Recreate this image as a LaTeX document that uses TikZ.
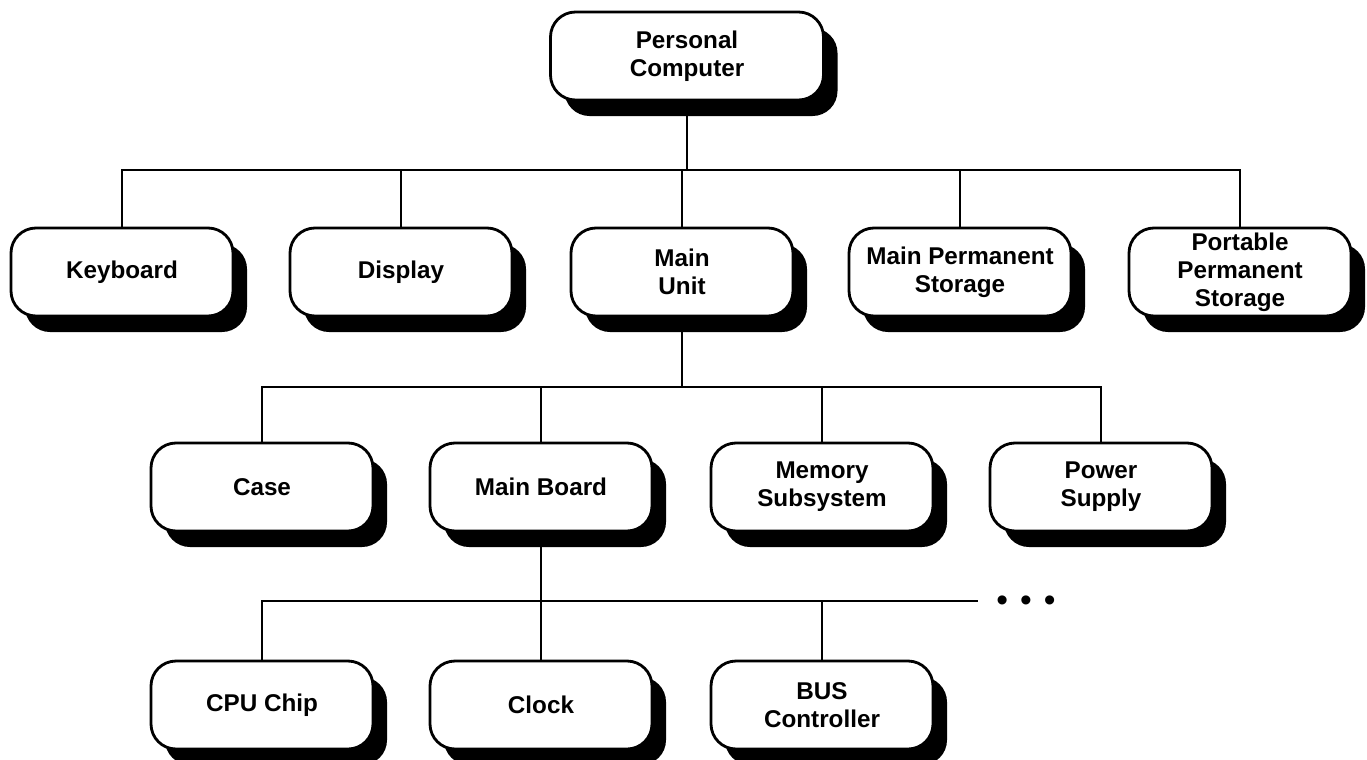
\documentclass[tikz,border=0pt]{standalone}
\usepackage{fontspec}
\setmainfont{Liberation Sans}
\usetikzlibrary{shadows}

\begin{document}
\begin{tikzpicture}[
        unit/.style={rectangle, rounded corners=0.5cm, draw=black, fill=white, line width=1.6pt,
            minimum height=1.76cm, minimum width=4.44cm, align=center,
            font=\fontsize{13.8}{16}\selectfont\bfseries,
            drop shadow={shadow xshift=0.28cm, shadow yshift=-0.32cm, fill=black, opacity=1}},
        link/.style={line width=0.8pt, black}]

        \useasboundingbox (0,0) rectangle (27.34,-15.18);

        % Top level
        \node[unit, minimum width=5.46cm] (pc) at (13.74,-1.12) {Personal\\Computer};

        % First level
        \node[unit] (kb) at (2.44,-5.44) {Keyboard};
        \node[unit] (disp) at (8.02,-5.44) {Display};
        \node[unit] (mu) at (13.64,-5.44) {Main\\Unit};
        \node[unit] (mps) at (19.2,-5.44) {Main Permanent\\Storage};
        \node[unit, inner ysep=0pt] (pps) at (24.8,-5.44) {Portable\\Permanent\\Storage};

        % Second level
        \node[unit] (case) at (5.24,-9.74) {Case};
        \node[unit] (mb) at (10.82,-9.74) {Main Board};
        \node[unit] (mem) at (16.44,-9.74) {Memory\\Subsystem};
        \node[unit] (ps) at (22.02,-9.74) {Power\\Supply};

        % Third level
        \node[unit] (cpu) at (5.24,-14.1) {CPU Chip};
        \node[unit] (clk) at (10.82,-14.1) {Clock};
        \node[unit] (bus) at (16.44,-14.1) {BUS\\Controller};

        % More parts
        \node[font=\fontsize{19}{20}\selectfont, inner sep=0pt] (more) at (20.52,-12.08) {\textbullet\hspace{0.24cm}\textbullet\hspace{0.24cm}\textbullet};
        \coordinate (busend) at (19.56,-12.02);

        % Links
        \draw[link] (pc.south) -- (13.74,-3.4);
        \draw[link] (kb.north) |- (pps.north |- 0,-3.4) -- (pps.north);
        \draw[link] (disp.north) -- (disp.north |- 0,-3.4);
        \draw[link] (mu.north) -- (mu.north |- 0,-3.4);
        \draw[link] (mps.north) -- (mps.north |- 0,-3.4);

        \draw[link] (mu.south) -- (mu.south |- 0,-7.74);
        \draw[link] (case.north) |- (ps.north |- 0,-7.74) -- (ps.north);
        \draw[link] (mb.north) -- (mb.north |- 0,-7.74);
        \draw[link] (mem.north) -- (mem.north |- 0,-7.74);

        \draw[link] (mb.south) -- (clk.north);
        \draw[link] (cpu.north) |- (busend);
        \draw[link] (bus.north) -- (bus.north |- busend);

    \end{tikzpicture}
\end{document}
